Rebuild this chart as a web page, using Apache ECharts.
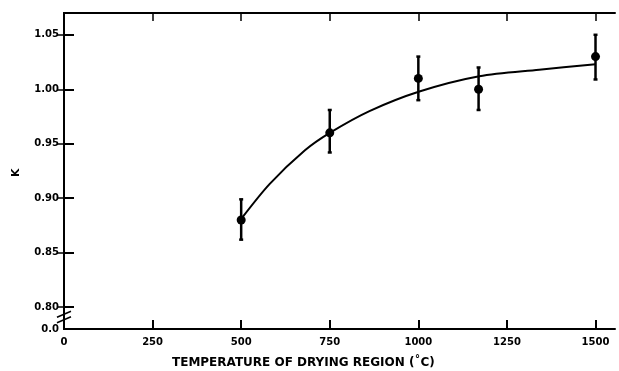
<!DOCTYPE html>
<html>
<head>
<meta charset="utf-8">
<script src="https://cdn.jsdelivr.net/npm/echarts@6/dist/echarts.min.js"></script>
<style>html,body{margin:0;padding:0;background:#fff}#c{width:619px;height:371px}</style>
</head>
<body>
<div id="c"></div>
<script>
// Measured points (temperature °C, K)
const temps = [500, 750, 1000, 1170, 1500];
const kValues = [0.880, 0.960, 1.010, 1.000, 1.030];
const kLow = [0.862, 0.942, 0.990, 0.981, 1.009];
const kHigh = [0.899, 0.981, 1.030, 1.020, 1.050];
// Fitted curve
const curveT = [500, 580, 680, 750, 862, 1003, 1172, 1341, 1500];
const curveK = [0.881, 0.913, 0.944, 0.960, 0.980, 0.998, 1.012, 1.018, 1.023];
// Axes
const xTicks = [0, 250, 500, 750, 1000, 1250, 1500];
const xInnerTicks = [250, 500, 750, 1000, 1250, 1500];
const yTicks = [0.80, 0.85, 0.90, 0.95, 1.00, 1.05];
const yBreakValue = 0.78; // shown as "0.0" below the axis break
const yLabels = [0.78, 0.80, 0.85, 0.90, 0.95, 1.00, 1.05];
const breakMarks = [0.7935, 0.7885];

const font = 'DejaVu Sans';
const chart = echarts.init(document.getElementById('c'));
const xMin = 0, xMax = 1555, yMin = yBreakValue, yMax = 1.07;

chart.setOption({
  animation: false,
  backgroundColor: '#fff',
  grid: {left: 64, top: 13, right: 4, bottom: 42},
  graphic: [
    {type: 'text', left: 172, top: 357, style: {text: 'TEMPERATURE OF DRYING REGION (˚C)', font: 'bold 12px "DejaVu Sans"', fill: '#000'}},
    {type: 'text', x: 11, y: 177, rotation: Math.PI / 2, style: {text: 'K', font: 'bold 11px "DejaVu Sans"', fill: '#000'}}
  ],
  xAxis: [
    {type: 'value', min: xMin, max: xMax, position: 'bottom',
     axisLine: {lineStyle: {color: '#000', width: 2}},
     axisTick: {inside: true, length: 9, customValues: xInnerTicks, lineStyle: {color: '#000', width: 2}},
     axisLabel: {customValues: xTicks, color: '#000', fontFamily: font, fontWeight: 'bold', fontSize: 10, margin: 8,
       formatter: v => String(v)},
     splitLine: {show: false}},
    {type: 'value', min: xMin, max: xMax, position: 'top',
     axisLine: {lineStyle: {color: '#000', width: 2}},
     axisTick: {inside: true, length: 8, customValues: xInnerTicks, lineStyle: {color: '#000', width: 1.5}},
     axisLabel: {show: false}, splitLine: {show: false}}
  ],
  yAxis: [
    {type: 'value', min: yMin, max: yMax, position: 'left',
     axisLine: {lineStyle: {color: '#000', width: 2}},
     axisTick: {inside: true, length: 10, customValues: yTicks, lineStyle: {color: '#000', width: 2}},
     axisLabel: {customValues: yLabels, color: '#000', fontFamily: font, fontWeight: 'bold', fontSize: 10, margin: 5,
       formatter: v => v < 0.79 ? '0.0' : v.toFixed(2)},
     splitLine: {show: false}},
    {type: 'value', min: yMin, max: yMax, position: 'right',
     axisLine: {lineStyle: {color: '#000', width: 2}},
     axisTick: {inside: true, length: 7, customValues: yTicks, lineStyle: {color: '#000', width: 1.5}},
     axisLabel: {show: false}, splitLine: {show: false}}
  ],
  series: [
    {type: 'line', smooth: 0.3, showSymbol: false, data: curveT.map((t, i) => [t, curveK[i]]),
     lineStyle: {color: '#000', width: 2}, z: 2},
    {type: 'custom', data: temps.map((t, i) => [t, kLow[i], kHigh[i]]), z: 3,
     renderItem: (params, api) => {
       const lo = api.coord([api.value(0), api.value(1)]);
       const hi = api.coord([api.value(0), api.value(2)]);
       const cap = 2;
       const st = {stroke: '#000', lineWidth: 2.5};
       return {type: 'group', children: [
         {type: 'line', shape: {x1: lo[0], y1: lo[1], x2: hi[0], y2: hi[1]}, style: st},
         {type: 'line', shape: {x1: lo[0] - cap, y1: lo[1], x2: lo[0] + cap, y2: lo[1]}, style: st},
         {type: 'line', shape: {x1: hi[0] - cap, y1: hi[1], x2: hi[0] + cap, y2: hi[1]}, style: st}
       ]};
     }},
    {type: 'scatter', data: temps.map((t, i) => [t, kValues[i]]), symbolSize: 9,
     itemStyle: {color: '#000', opacity: 1}, z: 4},
    {type: 'custom', data: breakMarks.map(v => [0, v]), z: 5, silent: true,
     renderItem: (params, api) => {
       const p = api.coord([api.value(0), api.value(1)]);
       return {type: 'line', shape: {x1: p[0] - 7, y1: p[1] + 3, x2: p[0] + 7, y2: p[1] - 3},
         style: {stroke: '#000', lineWidth: 1.5}};
     }}
  ]
});
</script>
</body>
</html>
